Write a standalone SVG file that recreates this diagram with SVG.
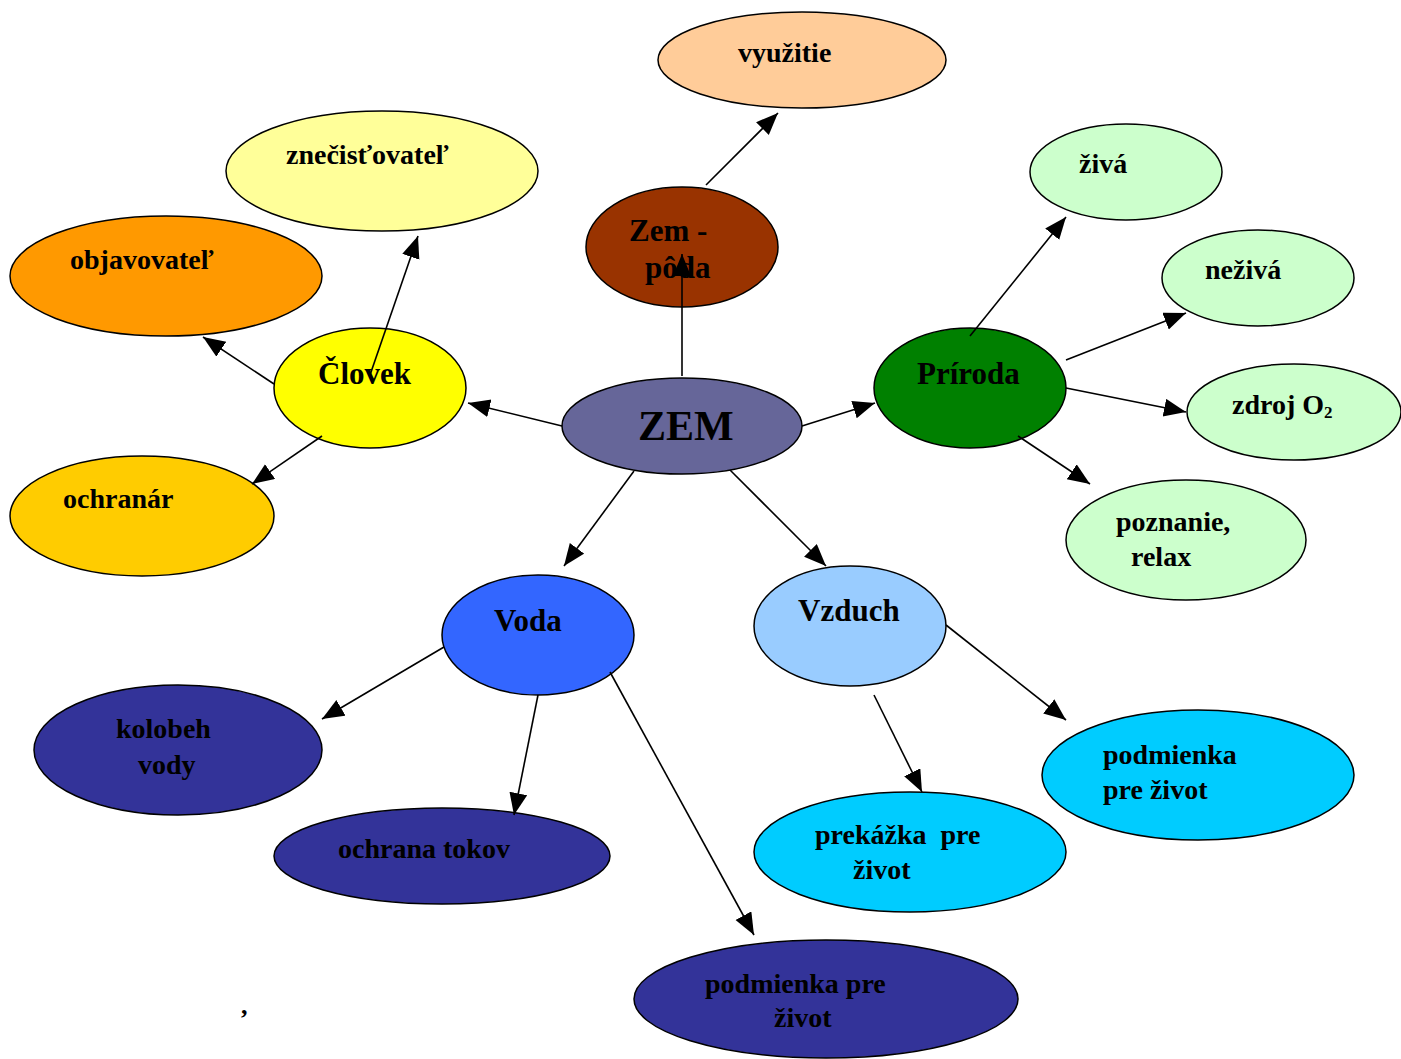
<svg xmlns="http://www.w3.org/2000/svg" width="1401" height="1059" viewBox="0 0 1401 1059">
<style>
.n{stroke:#000;stroke-width:1.5}
text{font-family:"Liberation Serif","Times New Roman",serif;font-weight:bold;fill:#000}
.s{font-size:28px}
.m{font-size:31px}
.c line{stroke:#000;stroke-width:1.6;marker-end:url(#ah)}
</style>
<defs>
<marker id="ah" markerUnits="userSpaceOnUse" markerWidth="24" markerHeight="20" refX="22" refY="9" orient="auto">
<path d="M0,0 L22,9 L0,18 z" fill="#000"/>
</marker>
</defs>
<rect width="1401" height="1059" fill="#fff"/>
<g id="vyuzitie"><ellipse class="n" cx="802" cy="60" rx="144" ry="48" fill="#FFCC99"/><text class="s" x="738" y="62">využitie</text></g>
<g id="zem-poda"><ellipse class="n" cx="682" cy="247" rx="96" ry="60" fill="#993300"/><text class="m" x="629" y="241">Zem -</text><text class="m" x="645" y="278">pôda</text></g>
<g id="znecistovatel"><ellipse class="n" cx="382" cy="171" rx="156" ry="60" fill="#FFFF99"/><text class="s" x="286" y="164">znečisťovateľ</text></g>
<g id="objavovatel"><ellipse class="n" cx="166" cy="276" rx="156" ry="60" fill="#FF9900"/><text class="s" x="70" y="269">objavovateľ</text></g>
<g id="clovek"><ellipse class="n" cx="370" cy="388" rx="96" ry="60" fill="#FFFF00"/><text class="m" x="318" y="384">Človek</text></g>
<g id="ochranar"><ellipse class="n" cx="142" cy="516" rx="132" ry="60" fill="#FFCC00"/><text class="s" x="63" y="508">ochranár</text></g>
<g id="zem"><ellipse class="n" cx="682" cy="426" rx="120" ry="48" fill="#666699"/><text x="638" y="440" style="font-size:42px">ZEM</text></g>
<g id="priroda"><ellipse class="n" cx="970" cy="388" rx="96" ry="60" fill="#008000"/><text class="m" x="917" y="384">Príroda</text></g>
<g id="ziva"><ellipse class="n" cx="1126" cy="172" rx="96" ry="48" fill="#CCFFCC"/><text class="s" x="1079" y="173">živá</text></g>
<g id="neziva"><ellipse class="n" cx="1258" cy="278" rx="96" ry="48" fill="#CCFFCC"/><text class="s" x="1205" y="279">neživá</text></g>
<g id="zdroj"><ellipse class="n" cx="1294" cy="412" rx="107" ry="48" fill="#CCFFCC"/><text class="s" x="1232" y="414">zdroj O<tspan dy="4" style="font-size:17px">2</tspan></text></g>
<g id="poznanie"><ellipse class="n" cx="1186" cy="540" rx="120" ry="60" fill="#CCFFCC"/><text class="s" x="1116" y="531">poznanie,</text><text class="s" x="1131" y="566">relax</text></g>
<g id="voda"><ellipse class="n" cx="538" cy="635" rx="96" ry="60" fill="#3366FF"/><text class="m" x="494" y="631">Voda</text></g>
<g id="vzduch"><ellipse class="n" cx="850" cy="626" rx="96" ry="60" fill="#99CCFF"/><text class="m" x="798" y="621">Vzduch</text></g>
<g id="kolobeh"><ellipse class="n" cx="178" cy="750" rx="144" ry="65" fill="#333399"/><text class="s" x="116" y="738">kolobeh</text><text class="s" x="138" y="774">vody</text></g>
<g id="ochrana-tokov"><ellipse class="n" cx="442" cy="856" rx="168" ry="48" fill="#333399"/><text class="s" x="338" y="858">ochrana tokov</text></g>
<g id="podmienka-voda"><ellipse class="n" cx="826" cy="999" rx="192" ry="59" fill="#333399"/><text class="s" x="705" y="993">podmienka pre</text><text class="s" x="774" y="1027">život</text></g>
<g id="prekazka"><ellipse class="n" cx="910" cy="852" rx="156" ry="60" fill="#00CCFF"/><text class="s" x="815" y="844" xml:space="preserve">prekážka  pre</text><text class="s" x="853" y="879">život</text></g>
<g id="podmienka-vzduch"><ellipse class="n" cx="1198" cy="775" rx="156" ry="65" fill="#00CCFF"/><text class="s" x="1103" y="764">podmienka</text><text class="s" x="1103" y="799">pre život</text></g>
<text x="241" y="1014" style="font-size:26px">,</text>
<g id="connectors" class="c">
<line x1="682" y1="376" x2="682" y2="254"/>
<line x1="706" y1="185" x2="778" y2="113"/>
<line x1="562" y1="426" x2="468" y2="403"/>
<line x1="802" y1="426" x2="875" y2="403"/>
<line x1="634" y1="471" x2="564" y2="566"/>
<line x1="730" y1="470" x2="826" y2="566"/>
<line x1="274" y1="384" x2="203" y2="337"/>
<line x1="370" y1="375" x2="418" y2="236"/>
<line x1="322" y1="436" x2="252" y2="484"/>
<line x1="970" y1="336" x2="1066" y2="217"/>
<line x1="1066" y1="360" x2="1186" y2="313"/>
<line x1="1066" y1="388" x2="1186" y2="412"/>
<line x1="1018" y1="436" x2="1090" y2="484"/>
<line x1="444" y1="647" x2="322" y2="719"/>
<line x1="538" y1="695" x2="514" y2="815"/>
<line x1="610" y1="672" x2="754" y2="935"/>
<line x1="874" y1="695" x2="922" y2="792"/>
<line x1="946" y1="625" x2="1066" y2="720"/>
</g>
</svg>
